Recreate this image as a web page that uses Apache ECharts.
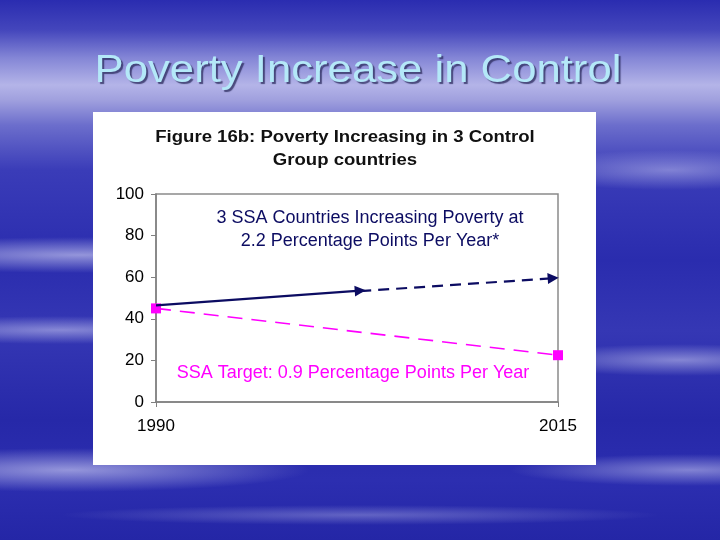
<!DOCTYPE html>
<html>
<head>
<meta charset="utf-8">
<script src="https://cdn.jsdelivr.net/npm/echarts@6/dist/echarts.min.js"></script>
<style>
html,body{margin:0;padding:0;width:720px;height:540px;overflow:hidden;}
#bg{position:absolute;left:0;top:0;width:720px;height:540px;
background:
 radial-gradient(ellipse 260px 18px at 80px 255px, rgba(235,235,255,0.55), rgba(235,235,255,0) 100%),
 radial-gradient(ellipse 200px 14px at 60px 330px, rgba(235,235,255,0.45), rgba(235,235,255,0) 100%),
 radial-gradient(ellipse 240px 22px at 70px 470px, rgba(235,235,255,0.55), rgba(235,235,255,0) 100%),
 radial-gradient(ellipse 160px 16px at 680px 360px, rgba(235,235,255,0.45), rgba(235,235,255,0) 100%),
 radial-gradient(ellipse 180px 16px at 690px 470px, rgba(235,235,255,0.45), rgba(235,235,255,0) 100%),
 radial-gradient(ellipse 150px 20px at 670px 170px, rgba(235,235,255,0.4), rgba(235,235,255,0) 100%),
 radial-gradient(ellipse 300px 10px at 360px 515px, rgba(235,235,255,0.3), rgba(235,235,255,0) 100%),
 linear-gradient(to bottom, #2a2cb0 0px, #4446bc 30px, #8486d6 58px, #b4b4e8 85px, #a0a0de 100px, #6c6ecc 125px, #3a3cb8 170px, #2a2cae 260px, #3537b4 330px, #2628a8 420px, #2c2eb0 480px, #2426a6 540px);}
#main{position:absolute;left:0;top:0;width:720px;height:540px;}
</style>
</head>
<body>
<div id="bg"></div>
<div id="main"></div>
<script>
// ---- data ----
const xTickYears = [1990, 2015];
const yTickValues = [0, 20, 40, 60, 80, 100];
const actualYears = [1990, 2002.7];
const actualValues = [46.5, 53.5];
const projectedYears = [2002.7, 2014.7];
const projectedValues = [53.3, 59.5];
const targetYears = [1990, 2015];
const targetValues = [45, 22.5];

const slideTitle = 'Poverty Increase in Control';
const chartTitle = 'Figure 16b: Poverty Increasing in 3 Control\nGroup countries';
const navyNote = '3 SSA Countries Increasing Poverty at\n2.2 Percentage Points Per Year*';
const pinkNote = 'SSA Target: 0.9 Percentage Points Per Year';

const NAVY = '#0c0c62';
const PINK = '#ff00ff';
const FONT = 'Arial, "Liberation Sans", sans-serif';

const chart = echarts.init(document.getElementById('main'), null, {renderer: 'canvas'});

function pairs(xs, ys) { return xs.map((x, i) => [x, ys[i]]); }

const option = {
  backgroundColor: 'transparent',
  animation: false,
  graphic: [
    {type: 'rect', left: 93, top: 112, shape: {width: 503, height: 353}, style: {fill: '#ffffff'}, z: -10, silent: true},
    {type: 'text', x: 358, y: 71, scaleX: 1.12, z: 10,
      style: {text: slideTitle, fill: '#b4e8f8', font: '39px ' + FONT, textAlign: 'center', textVerticalAlign: 'middle',
        textShadowColor: 'rgba(40,40,90,0.75)', textShadowOffsetX: 2, textShadowOffsetY: 2, textShadowBlur: 1}},
    {type: 'text', x: 345, y: 126, scaleX: 1.16, z: 10,
      style: {text: chartTitle, fill: '#111', font: 'bold 16px ' + FONT, textAlign: 'center', lineHeight: 23}},
    {type: 'text', x: 370, y: 207, z: 10,
      style: {text: navyNote, fill: NAVY, font: '18px ' + FONT, textAlign: 'center', lineHeight: 23}},
    {type: 'text', x: 353, y: 362, z: 10,
      style: {text: pinkNote, fill: PINK, font: '18px ' + FONT, textAlign: 'center', lineHeight: 22}}
  ],
  grid: {left: 156, right: 162, top: 194, bottom: 138, show: true, borderColor: '#8a8a8a', borderWidth: 1.5, backgroundColor: 'transparent'},
  xAxis: {
    type: 'value', min: 1990, max: 2015, interval: 25,
    axisLine: {show: true, lineStyle: {color: '#808080', width: 1.5}},
    axisTick: {show: true, length: 5, lineStyle: {color: '#808080'}},
    splitLine: {show: false},
    axisLabel: {margin: 16, fontFamily: FONT, fontSize: 17, color: '#000',
      customValues: xTickYears, formatter: v => String(v)},
    position: 'bottom'
  },
  yAxis: {
    type: 'value', min: 0, max: 100, interval: 20,
    axisLine: {show: true, lineStyle: {color: '#808080', width: 1.5}},
    axisTick: {show: true, length: 5, inside: false, lineStyle: {color: '#808080'}},
    splitLine: {show: false},
    axisLabel: {margin: 12, fontFamily: FONT, fontSize: 17, color: '#000',
      customValues: yTickValues}
  },
  series: [
    {
      type: 'line', name: 'target', data: pairs(targetYears, targetValues),
      symbol: 'rect', symbolSize: 10, showSymbol: true,
      itemStyle: {color: PINK},
      lineStyle: {color: PINK, width: 1.6, type: [15, 9]},
      z: 3
    },
    {
      type: 'lines', coordinateSystem: 'cartesian2d', name: 'actual',
      data: [{coords: pairs(actualYears, actualValues)}],
      symbol: ['none', 'triangle'], symbolSize: [9, 11],
      lineStyle: {color: NAVY, width: 2.2, type: 'solid', opacity: 1},
      z: 4
    },
    {
      type: 'lines', coordinateSystem: 'cartesian2d', name: 'projected',
      data: [{coords: pairs(projectedYears, projectedValues)}],
      symbol: ['none', 'triangle'], symbolSize: [9, 11],
      lineStyle: {color: NAVY, width: 2.2, type: [11, 7], opacity: 1},
      z: 4
    }
  ]
};
chart.setOption(option);
</script>
</body>
</html>
